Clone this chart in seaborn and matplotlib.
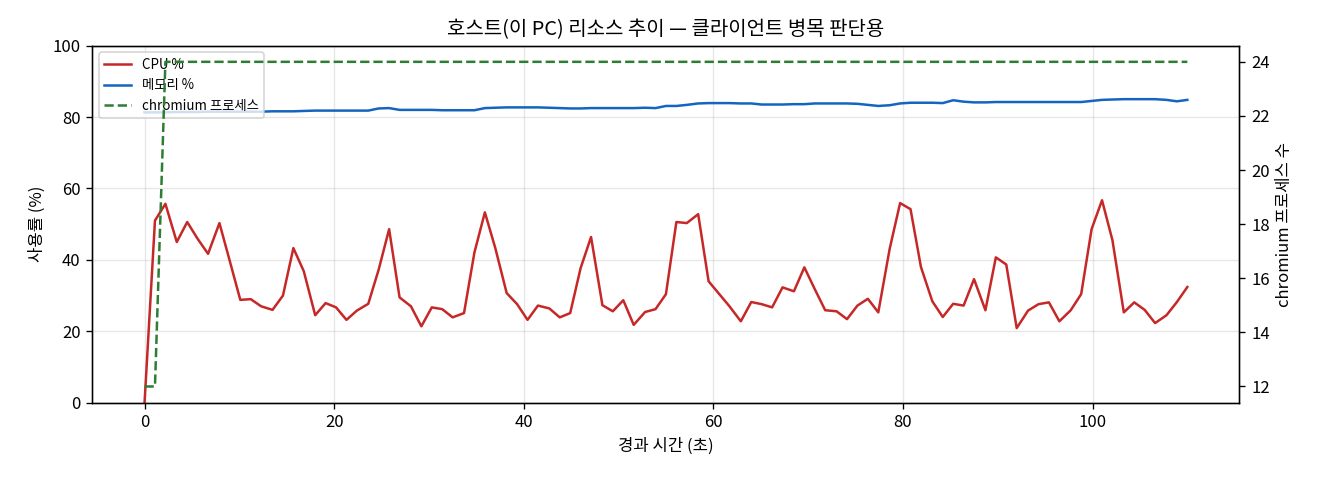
import matplotlib
matplotlib.use("Agg")
import matplotlib.pyplot as plt
import seaborn as sns
import pandas as pd

# elapsed seconds per sample
elapsed = [0.0, 1.1, 2.2, 3.4, 4.5, 5.6, 6.7, 7.9, 9.0, 10.1,
           11.2, 12.3, 13.5, 14.6, 15.7, 16.8, 18.0, 19.1, 20.2, 21.3,
           22.4, 23.6, 24.7, 25.8, 26.9, 28.1, 29.2, 30.3, 31.4, 32.5,
           33.7, 34.8, 35.9, 37.0, 38.2, 39.3, 40.4, 41.5, 42.7, 43.8,
           44.9, 46.0, 47.1, 48.3, 49.4, 50.5, 51.6, 52.8, 53.9, 55.0,
           56.1, 57.2, 58.4, 59.5, 60.6, 61.7, 62.9, 64.0, 65.1, 66.2,
           67.3, 68.5, 69.6, 70.7, 71.8, 73.0, 74.1, 75.2, 76.3, 77.4,
           78.6, 79.7, 80.8, 81.9, 83.1, 84.2, 85.3, 86.4, 87.5, 88.7,
           89.8, 90.9, 92.0, 93.2, 94.3, 95.4, 96.5, 97.7, 98.8, 99.9,
           101.0, 102.1, 103.3, 104.4, 105.5, 106.6, 107.8, 108.9, 110.0]

cpu = [0.0, 51.0, 55.7, 45.0, 50.6, 45.9, 41.7, 50.3, 39.6, 28.8,
       29.0, 27.0, 26.0, 30.0, 43.3, 36.8, 24.5, 27.9, 26.7, 23.2,
       25.8, 27.7, 37.3, 48.6, 29.5, 27.0, 21.4, 26.7, 26.2, 23.9,
       25.1, 42.1, 53.3, 43.3, 30.7, 27.6, 23.2, 27.2, 26.4, 23.9,
       25.1, 37.7, 46.4, 27.3, 25.6, 28.7, 21.8, 25.4, 26.2, 30.4,
       50.6, 50.3, 52.8, 34.0, 30.5, 27.0, 22.8, 28.2, 27.6, 26.7,
       32.3, 31.2, 37.9, 31.8, 25.9, 25.6, 23.4, 27.2, 29.1, 25.3,
       43.1, 55.9, 54.2, 38.0, 28.4, 24.0, 27.7, 27.2, 34.6, 25.9,
       40.7, 38.7, 20.9, 25.8, 27.6, 28.1, 22.8, 25.9, 30.4, 48.6,
       56.7, 45.5, 25.3, 28.1, 26.0, 22.3, 24.5, 28.2, 32.4]

memory = [81.3, 81.3, 81.3, 81.4, 81.4, 81.4, 81.5, 81.5, 81.5, 81.5,
          81.5, 81.5, 81.6, 81.6, 81.6, 81.7, 81.8, 81.8, 81.8, 81.8,
          81.8, 81.8, 82.4, 82.5, 82.0, 82.0, 82.0, 82.0, 81.9, 81.9,
          81.9, 81.9, 82.5, 82.6, 82.7, 82.7, 82.7, 82.7, 82.6, 82.5,
          82.4, 82.4, 82.5, 82.5, 82.5, 82.5, 82.5, 82.6, 82.5, 83.1,
          83.1, 83.4, 83.8, 83.9, 83.9, 83.9, 83.8, 83.8, 83.5, 83.5,
          83.5, 83.6, 83.6, 83.8, 83.8, 83.8, 83.8, 83.7, 83.4, 83.1,
          83.3, 83.8, 84.0, 84.0, 84.0, 83.9, 84.7, 84.3, 84.1, 84.1,
          84.2, 84.2, 84.2, 84.2, 84.2, 84.2, 84.2, 84.2, 84.2, 84.5,
          84.8, 84.9, 85.0, 85.0, 85.0, 85.0, 84.8, 84.4, 84.8]

chromium = [12, 12] + [24] * 97

df = pd.DataFrame({"t": elapsed, "cpu": cpu, "mem": memory, "chrome": chromium})

plt.rcParams["font.family"] = ["Noto Sans CJK KR", "DejaVu Sans"]
plt.rcParams["axes.unicode_minus"] = False

fig, ax1 = plt.subplots(figsize=(11, 4), dpi=120)

sns.lineplot(data=df, x="t", y="cpu", ax=ax1, color="#c62828", linewidth=1.5, label="CPU %")
sns.lineplot(data=df, x="t", y="mem", ax=ax1, color="#1565c0", linewidth=1.5, label="메모리 %")
ax1.set_ylim(0, 100)
ax1.set_xlabel("경과 시간 (초)")
ax1.set_ylabel("사용률 (%)")
ax1.grid(True, alpha=0.3)

ax2 = ax1.twinx()
sns.lineplot(data=df, x="t", y="chrome", ax=ax2, color="#2e7d32", linewidth=1.5,
             linestyle="--", label="chromium 프로세스")
ax2.set_ylabel("chromium 프로세스 수")
if ax2.get_legend() is not None:
    ax2.get_legend().remove()

h1, l1 = ax1.get_legend_handles_labels()
h2, l2 = ax2.get_legend_handles_labels()
ax1.legend(h1 + h2, l1 + l2, loc="upper left", fontsize=8)

ax1.set_title("호스트(이 PC) 리소스 추이 — 클라이언트 병목 판단용")
fig.subplots_adjust(left=0.070, right=0.939, top=0.905, bottom=0.161)
fig.savefig("out.png")
